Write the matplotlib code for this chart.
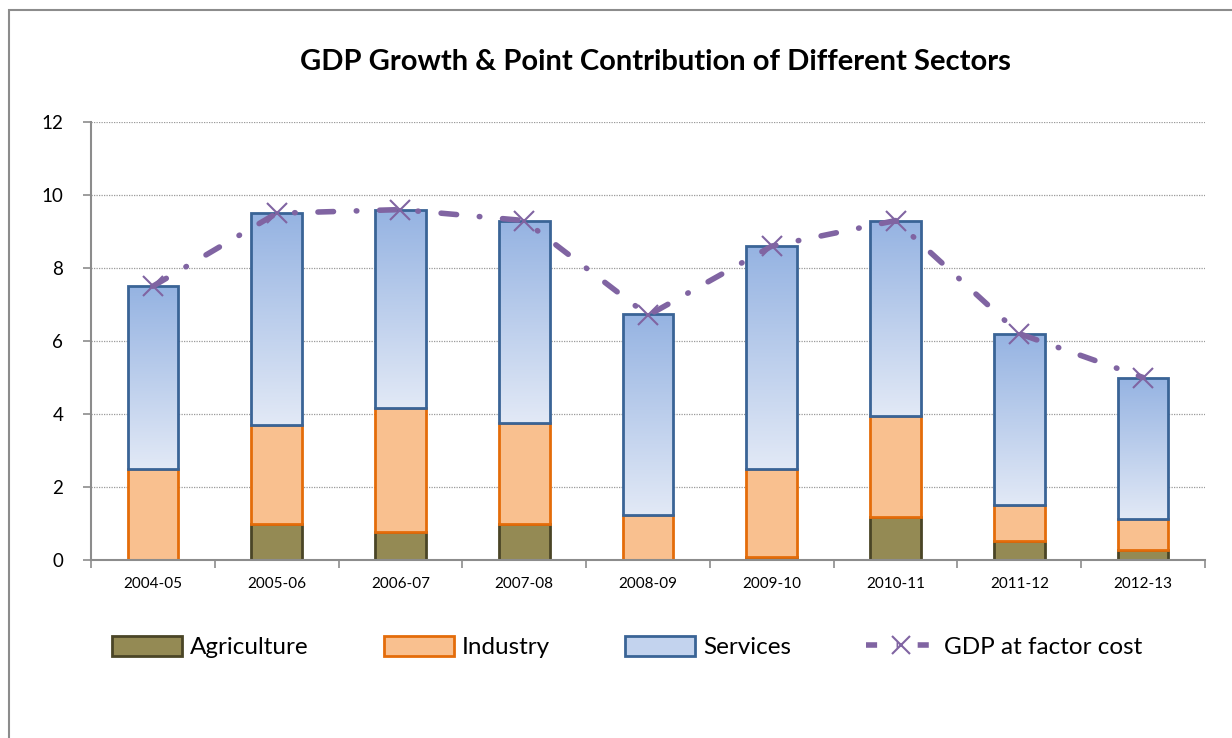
import numpy as np
import matplotlib.pyplot as plt
from matplotlib.patches import Rectangle, Patch
from matplotlib.lines import Line2D
from matplotlib.colors import LinearSegmentedColormap

# data
years = ['2004-05', '2005-06', '2006-07', '2007-08', '2008-09',
         '2009-10', '2010-11', '2011-12', '2012-13']
agriculture = [0.0, 1.0, 0.78, 1.0, 0.0, 0.09, 1.19, 0.53, 0.27]
industry = [2.5, 2.7, 3.38, 2.75, 1.23, 2.39, 2.76, 0.97, 0.85]
services = [5.0, 5.8, 5.44, 5.55, 5.51, 6.12, 5.35, 4.7, 3.88]
gdp = [7.5, 9.5, 9.6, 9.3, 6.7, 8.6, 9.3, 6.2, 5.0]

plt.rcParams['font.family'] = ['Lato', 'DejaVu Sans']

fig = plt.figure(figsize=(12.32, 7.38), dpi=100)
ax = fig.add_axes([91 / 1232, 1 - 560 / 738, (1205 - 91) / 1232, (560 - 122) / 738])

# outer chart border
fig.patches.append(Rectangle((9 / 1232, -0.05), 1.2, 1 - 10 / 738 + 0.05,
                             transform=fig.transFigure, fill=False,
                             edgecolor='#8c8c8c', linewidth=1.5))

x = np.arange(len(years))
w = 0.41
agr = np.array(agriculture)
ind = np.array(industry)
srv = np.array(services)

ax.bar(x, agr, w, color='#948a54', edgecolor='#4a4526', linewidth=2, zorder=2)
ax.bar(x, ind, w, bottom=agr, color='#f9c08f', edgecolor='#e46c0a', linewidth=2, zorder=2)
bars = ax.bar(x, srv, w, bottom=agr + ind, color='none', edgecolor='#3a6496',
              linewidth=2, zorder=3)

# gradient fill for services
grad = np.linspace(0, 1, 256).reshape(-1, 1)
cmap = LinearSegmentedColormap.from_list('svc', ['#e2e9f6', '#95b3e2'])
for b in bars:
    x0, y0 = b.get_x(), b.get_y()
    im = ax.imshow(grad, cmap=cmap, aspect='auto', origin='lower',
                   extent=[x0, x0 + b.get_width(), y0, y0 + b.get_height()], zorder=2)
    im.set_clip_path(b)

dash = (0, (2.8, 4.1, 0.1, 4.1))
ax.plot(x, gdp, color='#8064a2', linewidth=4, linestyle=dash,
        dash_capstyle='round', marker='x', markersize=14, markeredgewidth=1.5,
        zorder=4)

ax.set_xlim(-0.5, len(years) - 0.5)
ax.set_ylim(0, 12)
ax.set_yticks(range(0, 13, 2))
ax.set_xticks(x)
ax.set_xticklabels(years, fontsize=11)
ax.set_xticks(np.arange(-0.5, len(years)), minor=True)
ax.tick_params(axis='x', which='major', length=0, pad=12)
ax.tick_params(axis='x', which='minor', length=6, color='#8c8c8c', width=1.2)
ax.tick_params(axis='y', length=6, color='#8c8c8c', width=1.2, labelsize=13.5, pad=14)
ax.grid(axis='y', linestyle=(0, (1, 1)), color='#9a9a9a', linewidth=0.9, zorder=0)
ax.set_axisbelow(True)
for s in ['top', 'right']:
    ax.spines[s].set_visible(False)
for s in ['left', 'bottom']:
    ax.spines[s].set_color('#8c8c8c')
    ax.spines[s].set_linewidth(1.5)

fig.text(0.532, 1 - 62 / 738, 'GDP Growth & Point Contribution of Different Sectors',
         ha='center', va='center', fontsize=21, fontweight='bold')

handles = [
    Patch(facecolor='#948a54', edgecolor='#4a4526', linewidth=2),
    Patch(facecolor='#f9c08f', edgecolor='#e46c0a', linewidth=2),
    Patch(facecolor='#c3d3ee', edgecolor='#3a6496', linewidth=2),
    Line2D([], [], color='#8064a2', linewidth=4, linestyle=(0, (2, 3.5, 0.3, 3.5)),
           marker='x', markersize=13, markeredgewidth=1.5),
]
fig.legend(handles, ['Agriculture', 'Industry', 'Services', 'GDP at factor cost'],
           loc='center', bbox_to_anchor=(0.509, 1 - 647 / 738), ncol=4, frameon=False,
           fontsize=17.5, handlelength=2.9, handleheight=0.9, columnspacing=3.1,
           handletextpad=0.3)

fig.savefig('out.png', dpi=100)
